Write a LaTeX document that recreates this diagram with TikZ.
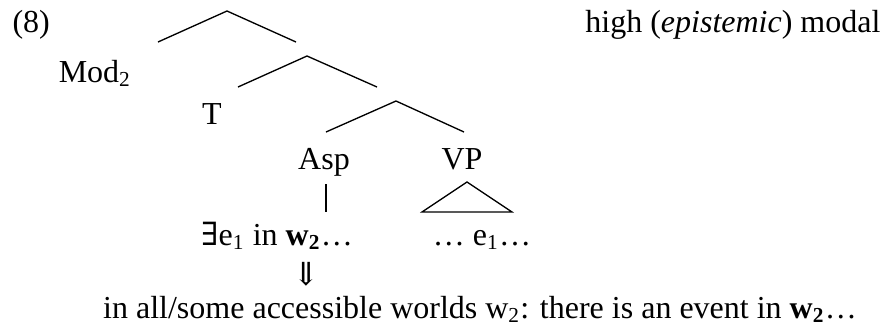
\documentclass[tikz,border=0pt]{standalone}
\usepackage{fontspec}
\setmainfont{Liberation Serif}
\newfontfamily\symfont{DejaVu Serif}
\usetikzlibrary{positioning}

\begin{document}
\begin{tikzpicture}[x=0.375pt,y=-0.375pt,
    word/.style={font={\fontsize{12}{14}\selectfont},inner sep=0pt,anchor=base},
    branch/.style={line width=0.5pt,line join=miter},
    ]
    \useasboundingbox (0,0) rectangle (885,333);

    % Example number and heading
    \node[word,anchor=base west] (num) at (12,32) {(8)};
    \node[word,anchor=base east] (head) at (881,32) {high (\textit{epistemic}) modal};

    % Branching nodes
    \coordinate (top1) at (227,11);
    \coordinate (left1) at (158,42);
    \coordinate (right1) at (296,42);
    \coordinate (top2) at (307,56);
    \coordinate (left2) at (238,87);
    \coordinate (right2) at (377,87);
    \coordinate (top3) at (396,101);
    \coordinate (left3) at (326,132);
    \coordinate (right3) at (464,132);
    \draw[branch] (left1) -- (top1) -- (right1);
    \draw[branch] (left2) -- (top2) -- (right2);
    \draw[branch] (left3) -- (top3) -- (right3);

    % Terminal labels
    \node[word] (mod) at (95,82) {Mod\textsubscript{2}};
    \node[word] (tense) at (212,124) {T};
    \node[word] (asp) at (324,169) {Asp};
    \node[word] (vp) at (462,169) {VP};

    % Asp stem and VP triangle
    \coordinate (stemtop) at (326,184);
    \coordinate (stembot) at (326,212);
    \draw[branch] (stemtop) -- (stembot);
    \coordinate (tritop) at (467,182);
    \coordinate (trileft) at (422,212);
    \coordinate (triright) at (512,212);
    \draw[branch] (tritop) -- (trileft) -- (triright) -- cycle;

    % Denotations
    \node[word] (exists) at (277,245) {{\symfont ∃}e\textsubscript{1} in \textbf{w\textsubscript{2}}…};
    \node[word] (event) at (482,245) {… e\textsubscript{1}…};
    \node[word,anchor=center] (entail) at (306,274) {{\symfont ⇓}};
    \node[word] (gloss) at (480,318) {in all/some accessible worlds w\textsubscript{2}: there is an event in \textbf{w\textsubscript{2}}…};
\end{tikzpicture}
\end{document}
